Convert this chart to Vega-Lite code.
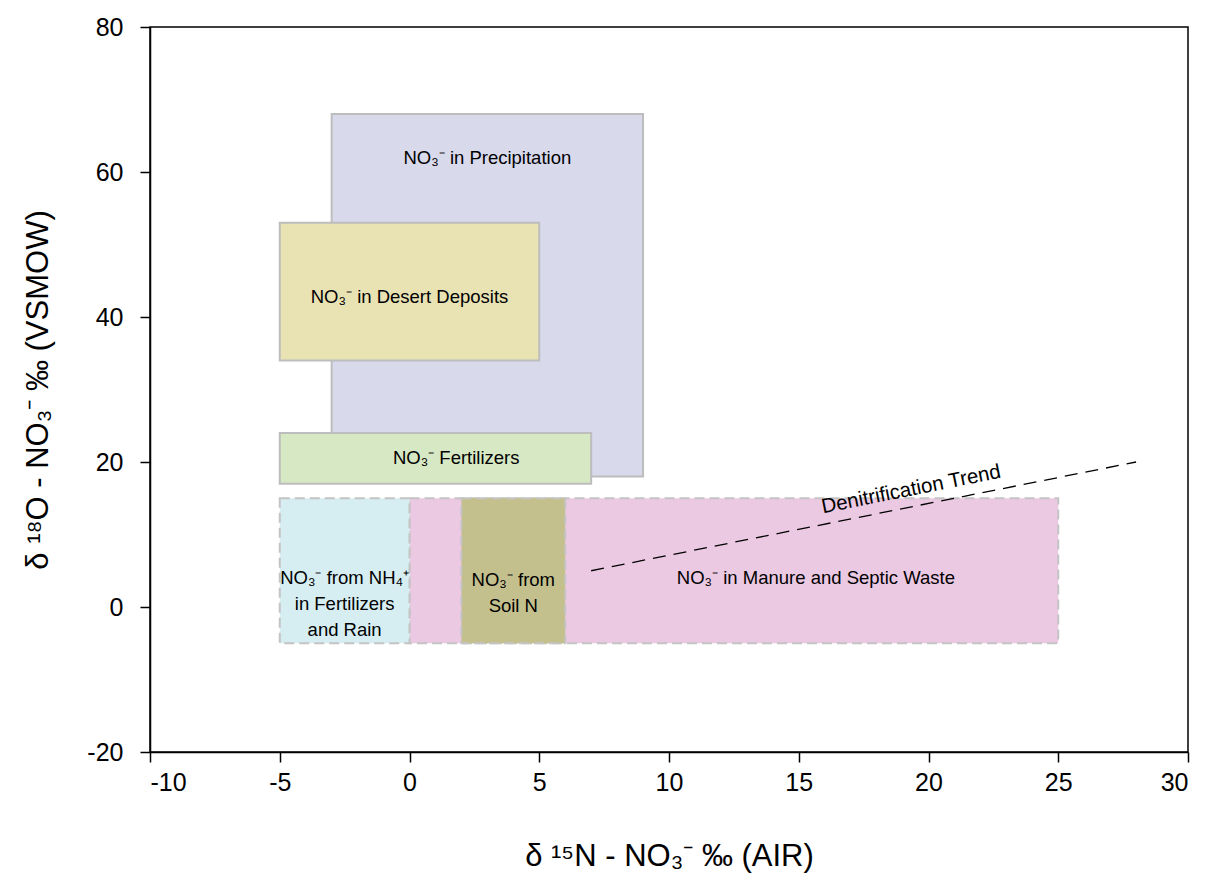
{
  "$schema": "https://vega.github.io/schema/vega-lite/v6.json",
  "width": 1038,
  "height": 725,
  "autosize": {"type": "none"},
  "padding": {"left": 150, "top": 27, "right": 21, "bottom": 136},
  "background": "white",
  "config": {
    "font": "Liberation Sans",
    "view": {"stroke": "black", "strokeWidth": 1.5},
    "axis": {
      "grid": false,
      "domainColor": "black",
      "domainWidth": 1.5,
      "tickColor": "black",
      "tickWidth": 1.5,
      "tickSize": 10,
      "labelFont": "Liberation Sans",
      "labelFontSize": 25,
      "labelColor": "black",
      "labelPadding": 8,
      "titleFont": "Liberation Sans",
      "titleFontSize": 31,
      "titleFontWeight": "normal",
      "titleColor": "black"
    }
  },
  "layer": [
    {
      "data": {"values": [
        {"name": "Precipitation", "x1": -3, "x2": 9, "y1": 18, "y2": 68},
        {"name": "Desert", "x1": -5, "x2": 5, "y1": 34, "y2": 53},
        {"name": "Fertilizers", "x1": -5, "x2": 7, "y1": 17, "y2": 24}
      ]},
      "mark": {"type": "rect", "stroke": "#bdbdbd", "strokeWidth": 2, "opacity": 1},
      "encoding": {
        "x": {"field": "x1", "type": "quantitative", "scale": {"domain": [-10, 30], "nice": false, "zero": false}, "axis": {"values": [-10, -5, 0, 5, 10, 15, 20, 25, 30], "labelExpr": "replace(datum.label, '−', '-')", "title": "δ ¹⁵N - NO₃⁻ ‰ (AIR)", "titlePadding": 46}},
        "x2": {"field": "x2"},
        "y": {"field": "y1", "type": "quantitative", "scale": {"domain": [-20, 80], "nice": false, "zero": false}, "axis": {"values": [-20, 0, 20, 40, 60, 80], "labelExpr": "replace(datum.label, '−', '-')", "labelPadding": 17, "title": "δ ¹⁸O - NO₃⁻ ‰ (VSMOW)", "titlePadding": 32}},
        "y2": {"field": "y2"},
        "fill": {"field": "name", "type": "nominal", "legend": null,
          "scale": {"domain": ["Precipitation", "Desert", "Fertilizers", "Manure", "NH4", "Soil"],
                    "range": ["#d9d9ec", "#e9e3b4", "#d6e8c4", "#ecc9e2", "#d6edf1", "#c4c08e"]}}
      }
    },
    {
      "data": {"values": [
        {"name": "Manure", "x1": 0, "x2": 25, "y1": -5, "y2": 15},
        {"name": "NH4", "x1": -5, "x2": 0, "y1": -5, "y2": 15},
        {"name": "Soil", "x1": 2, "x2": 6, "y1": -5, "y2": 15}
      ]},
      "mark": {"type": "rect", "stroke": "#c4c4c4", "strokeWidth": 2, "strokeDash": [10, 5], "opacity": 1},
      "encoding": {
        "x": {"field": "x1", "type": "quantitative"},
        "x2": {"field": "x2"},
        "y": {"field": "y1", "type": "quantitative"},
        "y2": {"field": "y2"},
        "fill": {"field": "name", "type": "nominal", "legend": null}
      }
    },
    {
      "data": {"values": [
        {"x": 7, "y": 5},
        {"x": 28, "y": 20}
      ]},
      "mark": {"type": "line", "color": "black", "strokeWidth": 1.3, "strokeDash": [13, 8]},
      "encoding": {
        "x": {"field": "x", "type": "quantitative"},
        "y": {"field": "y", "type": "quantitative"}
      }
    },
    {
      "data": {"values": [
        {"x": 3, "y": 62, "label": "NO₃⁻ in Precipitation", "angle": 0, "size": 18.5},
        {"x": 0, "y": 42.8, "label": "NO₃⁻ in Desert Deposits", "angle": 0, "size": 18.5},
        {"x": 1.8, "y": 20.5, "label": "NO₃⁻ Fertilizers", "angle": 0, "size": 18.5},
        {"x": -2.5, "y": 4.0, "label": "NO₃⁻ from  NH₄⁺\nin Fertilizers\nand Rain", "angle": 0, "size": 18.5},
        {"x": 4.0, "y": 3.7, "label": "NO₃⁻ from\nSoil N", "angle": 0, "size": 18.5},
        {"x": 15.66, "y": 4.0, "label": "NO₃⁻ in Manure and Septic Waste", "angle": 0, "size": 18.5},
        {"x": 19.33, "y": 16.2, "label": "Denitrification Trend", "angle": -11.3, "size": 20.5}
      ]},
      "mark": {"type": "text", "font": "Liberation Sans", "color": "black", "lineBreak": "\n", "lineHeight": 26, "align": "center", "baseline": "middle"},
      "encoding": {
        "x": {"field": "x", "type": "quantitative"},
        "y": {"field": "y", "type": "quantitative"},
        "text": {"field": "label"},
        "size": {"field": "size", "type": "quantitative", "scale": null},
        "angle": {"field": "angle", "type": "quantitative", "scale": null}
      }
    }
  ]
}
